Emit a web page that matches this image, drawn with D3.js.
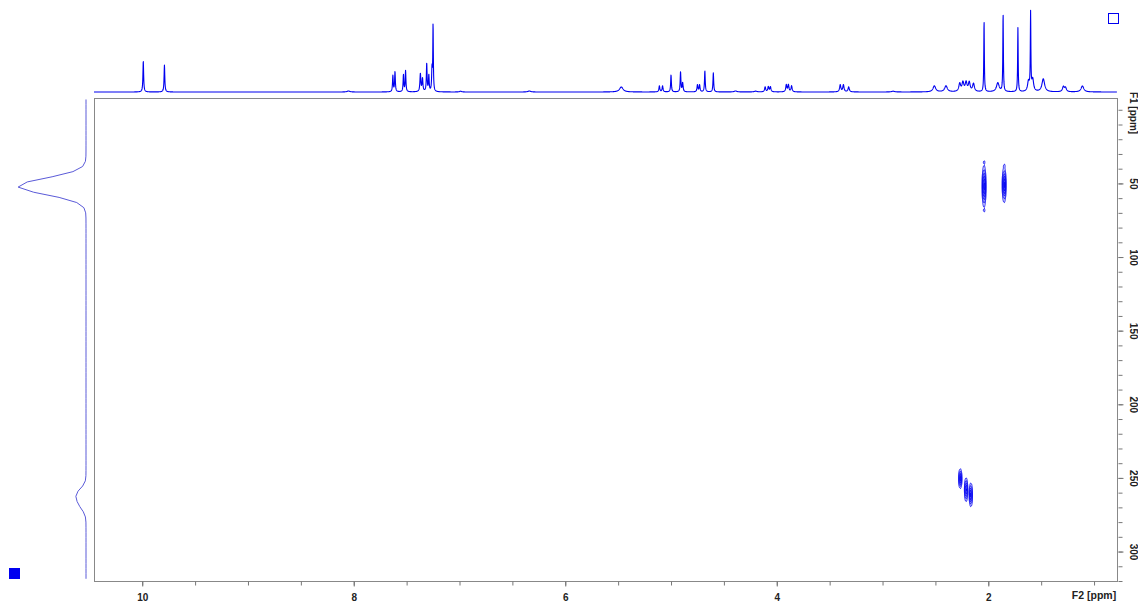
<!DOCTYPE html>
<html>
<head>
<meta charset="utf-8">
<script src="https://cdn.jsdelivr.net/npm/d3@7"></script>
<style>
	body { margin: 0; background: #fff; }
	svg { display: block; font-family: "Liberation Sans", Arial, sans-serif; }
	.axis text { font-size: 10px; font-weight: bold; fill: #222; }
	.axis line, .axis path { stroke: #777; }
</style>
</head>
<body>
<div id="chart"></div>
<script>
// 1D proton projection (F2, top): peak positions [ppm], heights, line widths [ppm]
const f2PeakPpm    = [9.99, 9.79, 8.05, 7.63, 7.61, 7.53, 7.51, 7.37, 7.35, 7.31, 7.29, 7.26, 7.25, 6.99,
	6.34, 5.47, 5.11, 5.08, 5.00, 4.91, 4.89, 4.75, 4.73, 4.68, 4.60, 4.39, 4.20, 4.11, 4.08, 4.06,
	3.91, 3.89, 3.86, 3.40, 3.37, 3.32, 2.90, 2.51, 2.40, 2.27, 2.24, 2.21, 2.18, 2.14, 2.04,
	1.91, 1.86, 1.72, 1.62, 1.60, 1.58, 1.48, 1.29, 1.27, 1.11];
const f2PeakHeight = [31, 27, 1, 16, 20, 17, 21, 18, 13, 28, 16, 22, 66, 0.8,
	1, 5, 6, 6, 17, 20, 9, 7, 7, 21, 19, 1, 0.8, 5, 5, 5,
	7, 7, 6, 7, 7, 5, 0.8, 6, 6, 8, 9, 9, 9, 8, 71,
	9, 78, 64, 10, 77, 12, 13, 5, 4, 6];
const f2PeakWidth  = [0.008, 0.008, 0.03, 0.008, 0.008, 0.008, 0.008, 0.01, 0.01, 0.008, 0.008, 0.008, 0.006, 0.02,
	0.03, 0.04, 0.01, 0.01, 0.008, 0.008, 0.01, 0.01, 0.01, 0.008, 0.008, 0.03, 0.03, 0.012, 0.012, 0.012,
	0.012, 0.012, 0.012, 0.014, 0.014, 0.014, 0.03, 0.03, 0.03, 0.02, 0.02, 0.02, 0.02, 0.02, 0.006,
	0.03, 0.006, 0.006, 0.02, 0.006, 0.02, 0.03, 0.02, 0.02, 0.03];

// 1D carbon projection (F1, left): peak positions [ppm], heights, widths [ppm]
const f1PeakPpm    = [52, 261, 268];
const f1PeakHeight = [72, 9, 6];
const f1PeakWidth  = [5.5, 4, 4];

// 2D cross peaks: F2 [ppm], F1 [ppm], spreads and amplitude
const crossF2   = [2.04, 2.04, 2.04, 1.85, 1.85, 2.265, 2.21, 2.165];
const crossF1   = [52, 35.5, 68.5, 51, 38, 250.5, 258, 261.5];
const crossSF2  = [0.009, 0.004, 0.004, 0.009, 0.004, 0.008, 0.008, 0.008];
const crossSF1  = [7, 0.9, 0.9, 6, 0.9, 3.5, 4.2, 4.2];
const crossAmp  = [1, 0.2, 0.2, 0.95, 0.18, 0.8, 0.8, 0.8];
const contourLevels = [0.12, 0.25, 0.4, 0.55, 0.7, 0.85];

// axis ticks
const f2MajorTicks = [10, 8, 6, 4, 2];
const f2MinorTicks = d3.range(10, 0.99, -0.5);
const f1MajorTicks = [50, 100, 150, 200, 250, 300];
const f1MinorTicks = d3.range(0, 321, 10);

let width = 1138, height = 604,
	plot = {left: 94, top: 98, right: 1117, bottom: 581},
	blue = '#0000f0';

let svg = d3.select('#chart').append('svg')
	.attr('width', width)
	.attr('height', height);

let x = d3.scaleLinear().domain([10.456, 0.783]).range([plot.left, plot.right]);
let y = d3.scaleLinear().domain([-8, 320]).range([plot.top, plot.bottom]);

// top projection
let yTop = d3.scaleLinear().domain([0, 80]).range([92, 12]);
let lorentz = function(p, c, h, w) {
	let d = (p - c) / (w / 2);
	return h / (1 + d * d);
};
let topData = d3.range(10.456, 0.783, -0.0015).map(function(p) {
	let v = 0;
	f2PeakPpm.forEach(function(c, i) { v += lorentz(p, c, f2PeakHeight[i], f2PeakWidth[i]); });
	return {p: p, v: v};
});
svg.append('path')
	.datum(topData)
	.attr('fill', 'none')
	.attr('stroke', blue)
	.attr('stroke-width', 1.1)
	.attr('stroke-linejoin', 'round')
	.attr('d', d3.line().x(function(d) { return x(d.p); }).y(function(d) { return yTop(d.v); }));

// left projection (coarse sampling like the original trace)
let xLeft = d3.scaleLinear().domain([0, 75]).range([86, 15]);
let leftData = d3.range(-7, 321, 3.5).map(function(p) {
	let v = 0;
	f1PeakPpm.forEach(function(c, i) {
		let d = (p - c) / f1PeakWidth[i];
		v += f1PeakHeight[i] * Math.exp(-0.5 * d * d);
	});
	return {p: p, v: v};
});
svg.append('path')
	.datum(leftData)
	.attr('fill', 'none')
	.attr('stroke', '#5a5ad8')
	.attr('stroke-width', 1)
	.attr('d', d3.line().x(function(d) { return xLeft(d.v); }).y(function(d) { return y(d.p); }));

// frame
svg.append('rect')
	.attr('x', plot.left + 0.5)
	.attr('y', plot.top + 0.5)
	.attr('width', plot.right - plot.left)
	.attr('height', plot.bottom - plot.top)
	.attr('fill', 'none')
	.attr('stroke', '#888');

// 2D contours
let nx = plot.right - plot.left, ny = plot.bottom - plot.top,
	values = new Float64Array(nx * ny);
for (let j = 0; j < ny; j++) {
	let f1 = y.invert(plot.top + j + 0.5);
	for (let i = 0; i < nx; i++) {
		let f2 = x.invert(plot.left + i + 0.5), v = 0;
		for (let k = 0; k < crossF2.length; k++) {
			let a = (f2 - crossF2[k]) / crossSF2[k], b = (f1 - crossF1[k]) / crossSF1[k];
			let r = a * a + b * b;
			if (r < 40) v += crossAmp[k] * Math.exp(-0.5 * r);
		}
		values[j * nx + i] = v;
	}
}
let contours = d3.contours().size([nx, ny]).thresholds(contourLevels)(values);
svg.append('g')
	.attr('transform', 'translate(' + plot.left + ',' + plot.top + ')')
	.selectAll('path')
	.data(contours)
	.join('path')
	.attr('fill', 'none')
	.attr('stroke', blue)
	.attr('stroke-width', 0.9)
	.attr('d', d3.geoPath());

// bottom axis (F2)
let gx = svg.append('g').attr('class', 'axis').attr('transform', 'translate(0,' + (plot.bottom + 0.5) + ')');
gx.call(d3.axisBottom(x).tickValues(f2MinorTicks).tickSize(4).tickFormat(''));
gx.append('g').call(d3.axisBottom(x).tickValues(f2MajorTicks).tickSize(5).tickPadding(6).tickFormat(d3.format('d')));
gx.selectAll('.domain').remove();
gx.selectAll('text').attr('dy', '0.8em');
svg.append('text')
	.attr('x', 1094)
	.attr('y', 599)
	.attr('text-anchor', 'middle')
	.attr('font-size', 10.5)
	.attr('font-weight', 'bold')
	.attr('fill', '#222')
	.text('F2 [ppm]');

// right axis (F1)
let gy = svg.append('g').attr('class', 'axis').attr('transform', 'translate(' + (plot.right + 1.5) + ',0)');
gy.call(d3.axisRight(y).tickValues(f1MinorTicks).tickSize(4).tickFormat(''));
gy.append('g').call(d3.axisRight(y).tickValues(f1MajorTicks).tickSize(5).tickFormat(d3.format('d')));
gy.selectAll('.domain').remove();
gy.selectAll('text')
	.attr('x', 0).attr('dy', null)
	.attr('text-anchor', 'middle')
	.attr('dominant-baseline', 'central')
	.attr('transform', 'translate(15,0) rotate(90)');
svg.append('text')
	.attr('transform', 'translate(' + (plot.right + 16) + ',113) rotate(90)')
	.attr('text-anchor', 'middle')
	.attr('dominant-baseline', 'central')
	.attr('font-size', 10)
	.attr('font-weight', 'bold')
	.attr('fill', '#222')
	.text('F1 [ppm]');

// corner markers
svg.append('rect').attr('x', 9).attr('y', 568).attr('width', 11).attr('height', 11).attr('fill', blue);
svg.append('rect').attr('x', 1108.5).attr('y', 13.5).attr('width', 10).attr('height', 10)
	.attr('fill', 'none').attr('stroke', blue);
</script>
</body>
</html>
